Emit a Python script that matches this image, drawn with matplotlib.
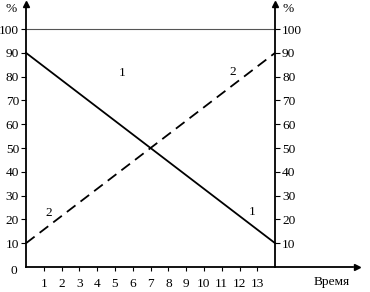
import matplotlib.pyplot as plt
import numpy as np

# данные графика
time_points = [0, 14]
line1_values = [90, 10]
line2_values = [10, 90]
level_100 = [100, 100]
x_ticks = list(range(1, 14))
y_ticks = list(range(10, 101, 10))

plt.rcParams['font.family'] = ['Liberation Serif', 'DejaVu Serif']
fs = 9.6

fig = plt.figure(figsize=(3.7, 2.92), dpi=100)
ax = fig.add_axes([0, 0, 1, 1])
ax.set_xlim(-1.46, 19.33)
ax.set_ylim(-10.5, 112.2)

# оси
ax.spines['top'].set_visible(False)
ax.spines['left'].set_position(('data', 0))
ax.spines['right'].set_position(('data', 14))
ax.spines['bottom'].set_position(('data', 0))
ax.spines['left'].set_bounds(0, 110)
ax.spines['right'].set_bounds(0, 110)
ax.spines['bottom'].set_bounds(0, 18.4)
for s in ['left', 'right', 'bottom']:
    ax.spines[s].set_linewidth(1.3)
ax.plot([0], [110.5], marker='^', color='black', markersize=4, clip_on=False)
ax.plot([14], [110.5], marker='^', color='black', markersize=4, clip_on=False)
ax.plot([18.6], [0], marker='>', color='black', markersize=4, clip_on=False)

ax.set_xticks(x_ticks)
ax.set_xticklabels([str(t) for t in x_ticks])
ax.set_yticks(y_ticks)
ax.set_yticklabels([str(t) for t in y_ticks])
ax.tick_params(axis='x', direction='out', length=3, pad=5, labelsize=fs)
ax.tick_params(axis='y', direction='out', length=3.5, pad=1.5, labelsize=fs,
               left=True, right=True, labelleft=True, labelright=True)

# линии
ax.plot(time_points, level_100, color='#555555', linewidth=0.8)
ax.plot(time_points, line1_values, color='black', linewidth=1.3)
ax.plot(time_points, line2_values, color='black', linewidth=1.3, dashes=(6, 3.5))

# подписи
ax.text(-0.5, -1.5, '0', fontsize=fs, ha='right', va='center')
ax.text(-0.5, 108.5, '%', fontsize=fs, ha='right', va='center')
ax.text(14.4, 108.5, '%', fontsize=fs, ha='left', va='center')
ax.text(17.2, -6.5, 'Время', fontsize=fs, ha='center', va='center')
ax.text(5.4, 81.5, '1', fontsize=fs, ha='center', va='center')
ax.text(11.6, 82, '2', fontsize=fs, ha='center', va='center')
ax.text(1.3, 22.5, '2', fontsize=fs, ha='center', va='center')
ax.text(12.7, 23, '1', fontsize=fs, ha='center', va='center')

fig.savefig('out.png', dpi=100)
